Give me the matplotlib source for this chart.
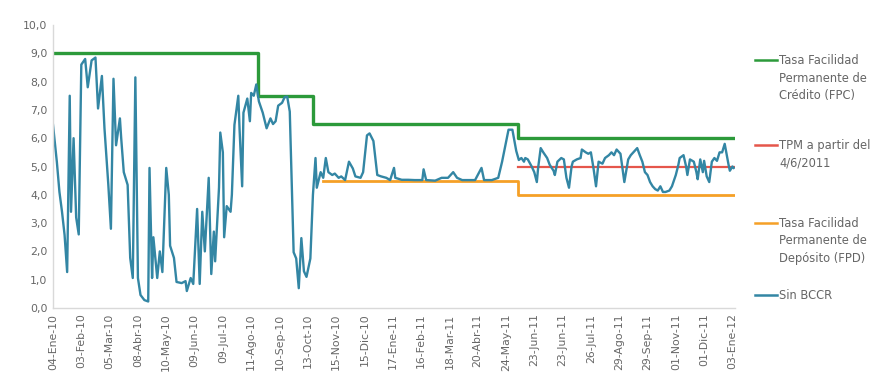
import matplotlib
matplotlib.use("Agg")
import matplotlib.pyplot as plt
from matplotlib.lines import Line2D
from matplotlib.ticker import FuncFormatter

# Business-day index (22 per label step) and tick labels of the category axis
TICK_STEP = 22
tick_labels = ["04-Ene-10", "03-Feb-10", "05-Mar-10", "08-Abr-10", "10-May-10",
               "09-Jun-10", "09-Jul-10", "11-Ago-10", "10-Sep-10", "13-Oct-10",
               "15-Nov-10", "15-Dic-10", "17-Ene-11", "16-Feb-11", "18-Mar-11",
               "20-Abr-11", "24-May-11", "23-Jun-11", "23-Jun-11", "26-Jul-11",
               "29-Ago-11", "29-Sep-11", "01-Nov-11", "01-Dic-11", "03-Ene-12"]
last_day = 530

# Policy corridor (step series: day where each level starts)
fpc_day = [0, 159, 202, 361, last_day]
fpc_val = [9.0, 7.5, 6.5, 6.0, 6.0]
tpm_day = [361, last_day]
tpm_val = [5.0, 5.0]
fpd_day = [210, 361, last_day]
fpd_val = [4.5, 4.0, 4.0]

# Sin BCCR rate
sin_day = [0, 3, 5, 7, 9, 11, 13, 14, 16, 18, 20, 22, 25, 27, 30, 33, 35, 38,
           40, 43, 45, 47, 49, 52, 53, 55, 58, 60, 62, 64, 66, 68, 71, 74, 75,
           77, 78, 81, 83, 85, 88, 90, 91, 94, 96, 100, 103, 104, 107, 109,
           112, 114, 116, 118, 121, 123, 125, 126, 129, 130, 132, 133, 135,
           138, 139, 141, 144, 145, 147, 148, 151, 153, 154, 156, 158, 160,
           163, 166, 169, 171, 173, 175, 178, 180, 182, 184, 187, 189, 191,
           193, 195, 197, 200, 202, 204, 205, 208, 210, 212, 214, 217, 219,
           222, 224, 227, 230, 233, 235, 239, 241, 244, 246, 249, 252, 255,
           259, 262, 265, 266, 271, 276, 281, 287, 288, 290, 297, 302, 307,
           311, 314, 318, 323, 328, 333, 335, 341, 346, 349, 352, 354, 357,
           359, 360, 362, 364, 366, 367, 369, 372, 374, 376, 377, 379, 381,
           384, 386, 389, 390, 392, 395, 397, 399, 401, 403, 404, 407, 410,
           411, 414, 416, 418, 420, 422, 424, 427, 429, 432, 434, 436, 438,
           441, 443, 444, 447, 449, 451, 454, 456, 458, 460, 462, 464, 466,
           468, 470, 472, 474, 476, 479, 481, 484, 486, 487, 490, 492, 493,
           495, 498, 500, 501, 503, 505, 506, 508, 510, 512, 514, 516, 518,
           520, 522, 524, 525, 526, 528, 529]
sin_val = [6.47, 5.16, 4.1, 3.4, 2.58, 1.27, 7.5, 3.4, 6.0, 3.2, 2.6, 8.6, 8.8,
           7.8, 8.75, 8.85, 7.05, 8.2, 6.35, 4.35, 2.8, 8.1, 5.75, 6.7, 6.0,
           4.8, 4.35, 1.77, 1.06, 8.15, 1.06, 0.46, 0.28, 0.23, 4.95, 1.06,
           2.5, 1.06, 2.0, 1.27, 4.95, 4.0, 2.2, 1.77, 0.92, 0.88, 0.95, 0.6,
           1.06, 0.85, 3.5, 0.85, 3.4, 2.0, 4.6, 1.2, 2.7, 1.65, 4.25, 6.2,
           5.5, 2.5, 3.6, 3.4, 4.0, 6.47, 7.5, 6.3, 4.3, 6.9, 7.4, 6.6, 7.6,
           7.5, 7.9, 7.3, 6.9, 6.35, 6.7, 6.5, 6.6, 7.15, 7.25, 7.45, 7.47,
           6.94, 1.97, 1.75, 0.7, 2.47, 1.3, 1.1, 1.75, 4.0, 5.3, 4.25, 4.8,
           4.6, 5.3, 4.8, 4.7, 4.75, 4.6, 4.65, 4.52, 5.17, 4.93, 4.65, 4.6,
           4.8, 6.1, 6.17, 5.9, 4.7, 4.65, 4.6, 4.52, 4.95, 4.6, 4.53, 4.53,
           4.52, 4.52, 4.9, 4.52, 4.5, 4.6, 4.6, 4.8, 4.6, 4.52, 4.52, 4.52,
           4.95, 4.52, 4.52, 4.6, 5.17, 5.85, 6.3, 6.3, 5.8, 5.55, 5.23, 5.3,
           5.17, 5.3, 5.25, 5.0, 4.8, 4.45, 4.95, 5.65, 5.5, 5.3, 5.06, 4.85,
           4.7, 5.17, 5.3, 5.25, 4.6, 4.25, 5.0, 5.17, 5.25, 5.3, 5.6, 5.5,
           5.45, 5.5, 4.95, 4.3, 5.17, 5.1, 5.3, 5.4, 5.5, 5.4, 5.6, 5.45,
           4.8, 4.45, 5.25, 5.4, 5.5, 5.65, 5.4, 5.17, 4.8, 4.7, 4.45, 4.3,
           4.2, 4.15, 4.3, 4.1, 4.1, 4.15, 4.3, 4.7, 5.06, 5.3, 5.4, 5.0, 4.7,
           5.25, 5.17, 4.8, 4.55, 5.25, 4.8, 5.2, 4.65, 4.45, 5.17, 5.3, 5.2,
           5.5, 5.5, 5.8, 5.3, 5.06, 4.85, 5.0, 4.95]

series_labels = ["Tasa Facilidad\nPermanente de\nCrédito (FPC)",
                 "TPM a partir del\n4/6/2011",
                 "Tasa Facilidad\nPermanente de\nDepósito (FPD)",
                 "Sin BCCR"]
colors = ["#2c9a3a", "#e5564b", "#f5a027", "#3386a4"]

plt.rcParams["font.family"] = ["DejaVu Sans"]
fig = plt.figure(figsize=(8.81, 3.85), dpi=100)
ax = fig.add_axes([53 / 881, 1 - 308 / 385, 682 / 881, 283 / 385])

ax.plot(fpc_day, fpc_val, drawstyle="steps-post", color=colors[0], lw=2.4)
ax.plot(tpm_day, tpm_val, drawstyle="steps-post", color=colors[1], lw=1.6)
ax.plot(fpd_day, fpd_val, drawstyle="steps-post", color=colors[2], lw=2.0)
ax.plot(sin_day, sin_val, color=colors[3], lw=1.7)

ax.set_xlim(0, last_day)
ax.set_ylim(0, 10)
ax.set_yticks(range(0, 11))
ax.yaxis.set_major_formatter(FuncFormatter(lambda v, p: f"{v:.1f}".replace(".", ",")))
ax.set_xticks([i * TICK_STEP for i in range(len(tick_labels))])
ax.set_xticklabels(tick_labels, rotation=90)
ax.tick_params(length=0, labelsize=7.8, colors="#666666", pad=4)

for side in ["top", "right"]:
    ax.spines[side].set_visible(False)
for side in ["left", "bottom"]:
    ax.spines[side].set_color("#d9d9d9")
    ax.spines[side].set_linewidth(1.0)

# legend on the right, handle aligned with first text line
legend_y = [60, 145, 223, 295]
for lab, col, ypx in zip(series_labels, colors, legend_y):
    yf = 1 - ypx / 385
    fig.add_artist(Line2D([755 / 881, 777 / 881], [yf, yf], color=col, lw=1.8,
                          transform=fig.transFigure))
    fig.text(779 / 881, yf + 6 / 385, lab, ha="left", va="top", fontsize=8.3,
             color="#666666", linespacing=1.45)

fig.savefig("out.png", dpi=100, facecolor="white")
